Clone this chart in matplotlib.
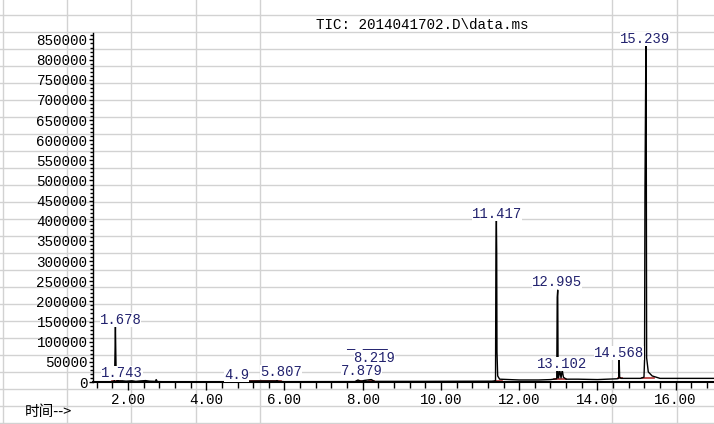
import numpy as np
import matplotlib

matplotlib.use("Agg")
import matplotlib.pyplot as plt
from matplotlib.ticker import MultipleLocator, FormatStrFormatter


# TIC trace (time in min, abundance)
trace_t = [
    1.10, 1.50, 1.60, 1.655, 1.668, 1.678, 1.688, 1.70, 1.72, 1.743, 1.76,
    1.85, 1.95, 2.10, 2.20, 2.30, 2.45, 2.55, 2.70, 2.72, 2.75, 3.00,
    4.50, 4.70, 4.95, 5.40, 5.80, 5.807, 5.85, 6.00, 7.80, 7.879, 7.95,
    8.05, 8.219, 8.30, 9.50, 10.50, 11.30, 11.395, 11.405, 11.417, 11.425,
    11.432, 11.45, 11.50, 12.00, 12.50, 12.80, 12.96, 12.972, 12.985,
    12.995, 13.005, 13.04, 13.07, 13.10, 13.13, 13.20, 13.50, 14.00, 14.50,
    14.545, 14.555, 14.568, 14.60, 15.10, 15.190, 15.205, 15.215, 15.239,
    15.246, 15.258, 15.30, 15.40, 15.60, 16.20, 17.00,
]
trace_y = [
    0, 500, 1000, 3000, 75000, 140000, 70000, 8000, 3000, 7000, 2500,
    3000, 2000, 3000, 1500, 2500, 3500, 2000, 1500, 6000, 1000, 500,
    500, 1500, 2000, 2500, 2500, 3500, 1500, 800, 1000, 5000, 2000,
    4000, 6000, 1500, 1500, 1800, 2000, 3000, 320000, 401000, 320000,
    75000, 15000, 7000, 5000, 5000, 6000, 8000, 210000, 228000,
    12000, 10000, 28000, 10000, 30000, 12000, 7000, 7000, 6000, 8000,
    9000, 57000, 12000, 9000, 9000, 12000, 55000, 468000, 838000,
    750000, 60000, 25000, 15000, 9000, 9000, 9000,
]

# integration baselines (start, end, level)
base_start = [1.60, 1.72, 4.70, 7.85, 8.15, 11.38, 12.90, 13.05, 14.52, 15.15]
base_end = [1.70, 1.80, 5.90, 7.95, 8.30, 11.55, 13.02, 13.20, 14.62, 15.45]
base_level = [1500, 2500, 1500, 1500, 1500, 3000, 8000, 8000, 9000, 10000]

peak_labels = ["1.678", "1.743", "4.9", "5.807", "7.879", "8.219",
               "11.417", "12.995", "13.102", "14.568", "15.239"]
label_t = [1.808, 1.847, 4.774, 5.911, 7.969, 8.301,
           11.433, 12.966, 13.094, 14.551, 15.216]
label_y = [153500, 22300, 18000, 24800, 26500, 60500,
           415800, 248300, 44600, 72500, 852000]

title = "TIC: 2014041702.D\\data.ms"
xlabel = "时间-->"

# spreadsheet grid behind the chart (pixels)
grid_cols = [3, 67, 131, 196, 260, 612, 677]
grid_rows = [15 + 17 * k for k in range(25)]

W, H = 714, 424
mono = "Liberation Mono"
navy = "#22226e"
fs = 10.0

fig = plt.figure(figsize=(W / 100, H / 100), dpi=100)

bg = fig.add_axes([0, 0, 1, 1], zorder=-1)
bg.set_xlim(0, W)
bg.set_ylim(H, 0)
bg.axis("off")
for x in grid_cols:
    bg.axvline(x, color="#d2d2d2", lw=1.0)
for y in grid_rows:
    bg.axhline(y, color="#d2d2d2", lw=1.0)

ax = fig.add_axes([93 / W, 42 / H, 1 - 93 / W, (382 - 33) / H])
ax.patch.set_alpha(0)
ax.set_xlim(1.105, 16.98)
ax.set_ylim(0, 866000)
for s in ["top", "right"]:
    ax.spines[s].set_visible(False)
ax.spines["left"].set_linewidth(1.0)
ax.spines["bottom"].set_linewidth(1.5)

for a, b, lv in zip(base_start, base_end, base_level):
    ax.plot([a, b], [lv, lv], color="#b03030", lw=1.2, zorder=2)
ax.plot(trace_t, trace_y, color="black", lw=1.0, zorder=3)

for txt, t, v in zip(peak_labels, label_t, label_y):
    ax.text(t, v, txt, ha="center", va="center", color=navy,
            fontsize=fs, family=mono, zorder=4,
            bbox=dict(facecolor="white", edgecolor="none", pad=0.0))
# clipped label remnant above 8.219
ax.text(8.097, 80500, "_ ___", ha="center", va="bottom",
        color=navy, fontsize=fs, family=mono)

ax.xaxis.set_major_locator(MultipleLocator(2))
ax.xaxis.set_minor_locator(MultipleLocator(0.4))
ax.xaxis.set_major_formatter(FormatStrFormatter("%.2f"))
ax.yaxis.set_major_locator(MultipleLocator(50000))
ax.yaxis.set_minor_locator(MultipleLocator(10000))
ax.yaxis.set_major_formatter(FormatStrFormatter("%d"))
ax.tick_params(axis="x", which="major", direction="out", length=6, width=1, pad=2)
ax.tick_params(axis="x", which="minor", direction="out", length=4, width=1)
ax.tick_params(axis="y", which="major", direction="out", length=3, width=1, pad=1)
ax.tick_params(axis="y", which="minor", direction="out", length=2, width=1)
for lab in ax.get_xticklabels() + ax.get_yticklabels():
    lab.set_family(mono)
    lab.set_fontsize(10.3)

fig.text(422.5 / W, 1 - 25 / H, title, ha="center", va="center",
         fontsize=10.3, family=mono)
fig.text(25 / W, 1 - 412 / H, xlabel, ha="left", va="center",
         fontsize=10.5, family=["Noto Sans CJK SC", "DejaVu Sans"])

fig.savefig("out.png", dpi=100)
